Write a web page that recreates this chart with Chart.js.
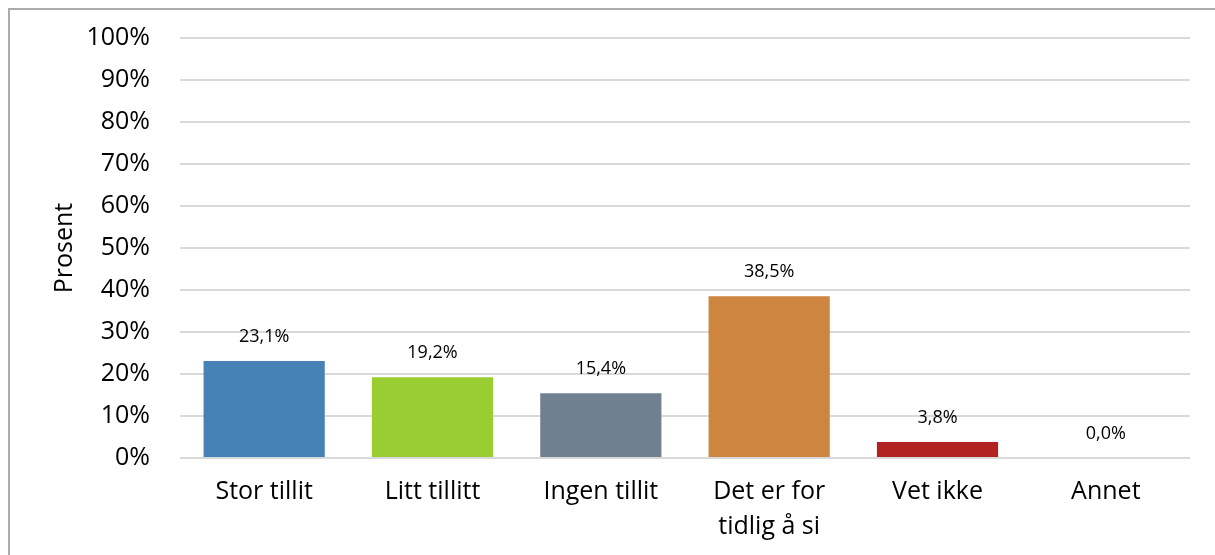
<!DOCTYPE html>
<html>
<head>
<meta charset="utf-8">
<script src="https://cdn.jsdelivr.net/npm/chart.js@4.4.0/dist/chart.umd.min.js"></script>
<style>
    html, body { margin: 0; padding: 0; background: #fff; }
    #wrap { position: relative; width: 1215px; height: 555px; overflow: hidden; }
    #frame { position: absolute; left: 8px; top: 8px; right: -10px; bottom: -10px;
             border-left: 2px solid #ababab; border-top: 2px solid #ababab; }
    canvas { position: absolute; left: 0; top: 0; }
</style>
</head>
<body>
<div id="wrap">
    <div id="frame"></div>
    <canvas id="chart" width="1215" height="555"></canvas>
</div>
<script>
var categories = ['Stor tillit', 'Litt tillitt', 'Ingen tillit', ['Det er for', 'tidlig å si'], 'Vet ikke', 'Annet'];
var values = [23.1, 19.2, 15.4, 38.5, 3.8, 0.0];
var barColors = ['#4682b4', '#9acd32', '#708090', '#cd853f', '#b22222', '#808080'];
var yTicks = [0, 10, 20, 30, 40, 50, 60, 70, 80, 90, 100];

function pct(v) {
    return v.toFixed(1).replace('.', ',') + '%';
}

// value labels above each bar
var barLabels = {
    id: 'barLabels',
    afterDatasetsDraw: function (chart) {
        var c = chart.ctx;
        var meta = chart.getDatasetMeta(0);
        c.save();
        c.font = '18px "Open Sans"';
        c.fillStyle = '#000';
        c.textAlign = 'center';
        c.textBaseline = 'middle';
        meta.data.forEach(function (bar, i) {
            c.fillText(pct(values[i]), bar.x, bar.y - 24);
        });
        c.restore();
    }
};

var ctx = document.getElementById('chart');
var myChart = new Chart(ctx, {
    type: 'bar',
    data: {
        labels: categories,
        datasets: [{
            label: 'Prosent',
            data: values,
            backgroundColor: barColors,
            borderWidth: 0,
            barPercentage: 0.72,
            categoryPercentage: 1
        }]
    },
    plugins: [barLabels],
    options: {
        responsive: false,
        animation: false,
        layout: {
            padding: { left: 0, right: 25, top: 38, bottom: 0 }
        },
        plugins: {
            legend: { display: false },
            tooltip: { enabled: false }
        },
        scales: {
            x: {
                grid: { display: false, drawTicks: false },
                border: { display: false },
                ticks: {
                    color: '#000',
                    padding: 16,
                    maxRotation: 0,
                    autoSkip: false,
                    font: { family: 'Open Sans', size: 25, lineHeight: 1.4 }
                },
                afterFit: function (scale) {
                    scale.height = 97;
                    scale.paddingLeft = 0;
                    scale.paddingRight = 0;
                }
            },
            y: {
                min: 0,
                max: 100,
                afterBuildTicks: function (scale) {
                    scale.ticks = yTicks.map(function (v) { return { value: v }; });
                },
                grid: { color: '#d9d9d9', lineWidth: 2, drawTicks: false },
                border: { display: false },
                ticks: {
                    color: '#000',
                    padding: 30,
                    font: { family: 'Open Sans', size: 25 },
                    callback: function (v) { return v + '%'; }
                },
                title: {
                    display: true,
                    text: 'Prosent',
                    color: '#000',
                    padding: { top: 50, bottom: 0 },
                    font: { family: 'Open Sans', size: 25 }
                },
                afterFit: function (scale) {
                    scale.width = 180;
                    scale.paddingTop = 0;
                    scale.paddingBottom = 0;
                }
            }
        }
    }
});
</script>
</body>
</html>
